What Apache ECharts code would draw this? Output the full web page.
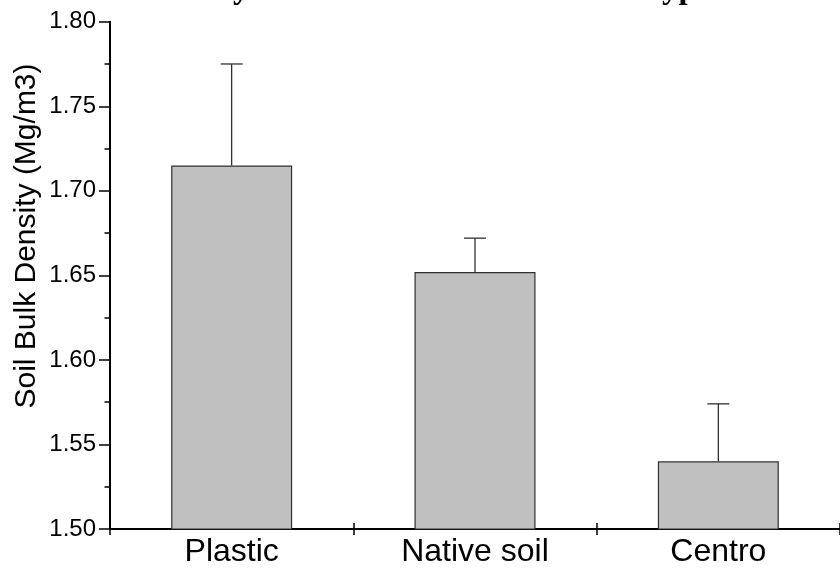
<!DOCTYPE html>
<html>
<head>
<meta charset="utf-8">
<script src="https://cdn.jsdelivr.net/npm/echarts@6/dist/echarts.min.js"></script>
<style>
  html, body { margin: 0; padding: 0; background: #ffffff; }
  #chart { width: 840px; height: 571px; }
</style>
</head>
<body>
<div id="chart"></div>
<script>
// Soil bulk density (Mg/m3) under three cover types, mean with upper error bar
const categories = ['Plastic', 'Native soil', 'Centro'];
const density = [1.715, 1.652, 1.540];
const errorUp = [0.060, 0.020, 0.034];
const titleText = 'Soil Bulk density levels under different cover types';
const yName = 'Soil Bulk Density (Mg/m3)';

const errorData = categories.map((c, i) => [i, density[i], density[i] + errorUp[i]]);

const chart = echarts.init(document.getElementById('chart'), null, { renderer: 'canvas' });

chart.setOption({
  animation: false,
  backgroundColor: '#ffffff',
  graphic: [
    {
      type: 'text',
      left: 11,
      top: -27,
      style: {
        text: titleText,
        font: 'bold 33px "Liberation Serif", "Times New Roman", serif',
        fill: '#000000'
      }
    },
    {
      type: 'text',
      x: 27,
      y: 236,
      rotation: Math.PI / 2,
      style: {
        text: yName,
        font: '30px "Liberation Sans", Arial, sans-serif',
        fill: '#000000',
        align: 'center',
        verticalAlign: 'middle'
      }
    }
  ],
  grid: { left: 110, top: 21.7, width: 735, height: 507.3, containLabel: false },
  xAxis: [
    {
      type: 'category',
      data: categories,
      position: 'bottom',
      axisLine: { lineStyle: { color: '#000000', width: 2 } },
      axisTick: { show: true, length: 6, lineStyle: { color: '#000000', width: 1.5 } },
      axisLabel: {
        color: '#000000',
        fontSize: 32,
        fontFamily: '"Liberation Sans", Arial, sans-serif',
        margin: 7
      }
    },
    {
      type: 'category',
      data: categories,
      position: 'bottom',
      axisLine: { show: false },
      axisTick: { show: true, inside: true, length: 6, lineStyle: { color: '#000000', width: 1.5 } },
      axisLabel: { show: false }
    }
  ],
  yAxis: {
    type: 'value',
    min: 1.5,
    max: 1.8,
    interval: 0.05,
    axisLine: { show: true, lineStyle: { color: '#000000', width: 2 } },
    axisTick: { show: true, length: 11, lineStyle: { color: '#000000', width: 1.5 } },
    minorTick: { show: true, splitNumber: 2, length: 5.5, lineStyle: { color: '#000000', width: 1.5 } },
    splitLine: { show: false },
    axisLabel: {
      color: '#000000',
      fontSize: 24,
      fontFamily: '"Liberation Sans", Arial, sans-serif',
      margin: 14,
      formatter: v => v.toFixed(2)
    }
  },
  series: [
    {
      type: 'bar',
      data: density,
      barWidth: 121,
      itemStyle: { color: '#c0c0c0', borderColor: '#303030', borderWidth: 1.2 },
      z: 1
    },
    {
      type: 'custom',
      data: errorData,
      z: 3,
      renderItem: (params, api) => {
        const top = api.coord([api.value(0), api.value(2)]);
        const base = api.coord([api.value(0), api.value(1)]);
        const half = 11;
        const style = { stroke: '#202020', lineWidth: 1.2 };
        return {
          type: 'group',
          children: [
            { type: 'line', shape: { x1: top[0], y1: base[1], x2: top[0], y2: top[1] }, style },
            { type: 'line', shape: { x1: top[0] - half, y1: top[1], x2: top[0] + half, y2: top[1] }, style }
          ]
        };
      }
    }
  ]
});
</script>
</body>
</html>
